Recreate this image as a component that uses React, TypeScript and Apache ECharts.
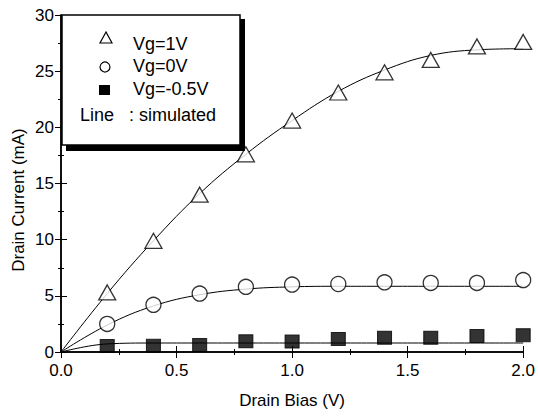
import React, { useEffect, useRef } from "react";
import * as echarts from "echarts";

const biasPoints = [0.2, 0.4, 0.6, 0.8, 1.0, 1.2, 1.4, 1.6, 1.8, 2.0];
const measVg1 = [5.3, 9.9, 14.0, 17.6, 20.6, 23.1, 24.9, 26.0, 27.2, 27.6];
const measVg0 = [2.5, 4.2, 5.2, 5.8, 6.0, 6.05, 6.2, 6.15, 6.15, 6.4];
const measVgm05 = [0.53, 0.55, 0.62, 0.95, 0.93, 1.16, 1.27, 1.27, 1.42, 1.5];

const simBias = [0, 0.2, 0.4, 0.6, 0.8, 1.0, 1.2, 1.4, 1.6, 1.8, 2.0];
const simVg1 = [0, 5.2, 9.9, 14.1, 17.6, 20.6, 23.2, 25.1, 26.4, 26.9, 27.0];
const simVg0 = [0, 2.4, 4.1, 5.1, 5.6, 5.8, 5.85, 5.85, 5.85, 5.85, 5.85];
const simVgm05 = [0, 0.72, 0.8, 0.8, 0.8, 0.8, 0.8, 0.8, 0.8, 0.8, 0.8];

const legendLabels = ["Vg=1V", "Vg=0V", "Vg=-0.5V"];
const legendNote = "Line   : simulated";
const xName = "Drain Bias (V)";
const yName = "Drain Current (mA)";

const FONT = "Liberation Sans, Arial, Helvetica, sans-serif";

function pairs(xs: number[], ys: number[]) {
  return xs.map((x, i) => [x, ys[i]]);
}

export default function App() {
  const ref = useRef<HTMLDivElement>(null);
  useEffect(() => {
    if (!ref.current) return;
    const chart = echarts.init(ref.current, undefined, { renderer: "svg" });
    const axisCommon = {
      type: "value" as const,
      axisLine: { show: true, lineStyle: { color: "#000", width: 1.5 } },
      splitLine: { show: false },
    };
    const tick = { show: true, inside: true, length: 6, lineStyle: { color: "#000" } };
    const minor = { show: true, splitNumber: 2, length: 3, lineStyle: { color: "#000" } };
    const lineStyle = { color: "#000", width: 1 };
    chart.setOption({
      animation: false,
      backgroundColor: "#fff",
      grid: { left: 61, right: 12, top: 15, bottom: 64 },
      xAxis: [
        {
          ...axisCommon,
          min: 0,
          max: 2,
          interval: 0.5,
          position: "bottom",
          axisTick: tick,
          minorTick: minor,
          axisLabel: {
            color: "#000",
            fontFamily: FONT,
            fontSize: 17,
            margin: 10,
            formatter: (v: number) => v.toFixed(1),
          },
          name: xName,
          nameLocation: "middle",
          nameGap: 40,
          nameTextStyle: { color: "#000", fontFamily: FONT, fontSize: 17 },
        },
        {
          ...axisCommon,
          min: 0,
          max: 2,
          interval: 0.5,
          position: "top",
          axisTick: tick,
          minorTick: minor,
          axisLabel: { show: false },
        },
      ],
      yAxis: [
        {
          ...axisCommon,
          min: 0,
          max: 30,
          interval: 5,
          position: "left",
          axisTick: tick,
          minorTick: minor,
          axisLabel: { color: "#000", fontFamily: FONT, fontSize: 17, margin: 7 },
        },
        {
          ...axisCommon,
          min: 0,
          max: 30,
          interval: 5,
          position: "right",
          axisTick: tick,
          minorTick: minor,
          axisLabel: { show: false },
        },
      ],
      series: [
        { type: "line", data: pairs(simBias, simVg1), smooth: 0.4, showSymbol: false, lineStyle, z: 1 },
        { type: "line", data: pairs(simBias, simVg0), smooth: 0.4, showSymbol: false, lineStyle, z: 1 },
        { type: "line", data: pairs(simBias, simVgm05), smooth: 0.4, showSymbol: false, lineStyle, z: 1 },
        {
          type: "scatter",
          name: legendLabels[0],
          data: pairs(biasPoints, measVg1),
          symbol: "triangle",
          symbolSize: [17, 15],
          itemStyle: { color: "#fff", borderColor: "#000", borderWidth: 1.3 },
          z: 3,
        },
        {
          type: "scatter",
          name: legendLabels[1],
          data: pairs(biasPoints, measVg0),
          symbol: "circle",
          symbolSize: 15,
          itemStyle: { color: "#fff", borderColor: "#000", borderWidth: 1.3 },
          z: 3,
        },
        {
          type: "scatter",
          name: legendLabels[2],
          data: pairs(biasPoints, measVgm05),
          symbol: "rect",
          symbolSize: [14, 13],
          itemStyle: { color: "#000", borderColor: "#000", borderWidth: 1 },
          z: 3,
        },
      ],
      graphic: [
        {
          type: "text",
          x: 18,
          y: 200,
          rotation: Math.PI / 2,
          style: { text: yName, font: `17px ${FONT}`, fill: "#000", align: "center", verticalAlign: "middle" },
          z: 5,
        },
        { type: "rect", shape: { x: 66, y: 19, width: 179, height: 132 }, style: { fill: "#000" }, z: 10 },
        { type: "rect", shape: { x: 62, y: 15, width: 178, height: 130 }, style: { fill: "#fff", stroke: "#000", lineWidth: 1.5 }, z: 11 },
        { type: "polygon", shape: { points: [[106, 32], [100, 43], [112, 43]] }, style: { fill: "#fff", stroke: "#000", lineWidth: 1.2 }, z: 12 },
        { type: "circle", shape: { cx: 105, cy: 67, r: 5 }, style: { fill: "#fff", stroke: "#000", lineWidth: 1.2 }, z: 12 },
        { type: "rect", shape: { x: 99, y: 85, width: 11, height: 10 }, style: { fill: "#000" }, z: 12 },
        { type: "text", x: 133, y: 44, style: { text: legendLabels[0], font: `18px ${FONT}`, fill: "#000", verticalAlign: "middle" }, z: 12 },
        { type: "text", x: 133, y: 66, style: { text: legendLabels[1], font: `18px ${FONT}`, fill: "#000", verticalAlign: "middle" }, z: 12 },
        { type: "text", x: 133, y: 89, style: { text: legendLabels[2], font: `18px ${FONT}`, fill: "#000", verticalAlign: "middle" }, z: 12 },
        { type: "text", x: 80, y: 115, style: { text: legendNote, font: `18px ${FONT}`, fill: "#000", verticalAlign: "middle" }, z: 12 },
      ],
    });
    return () => chart.dispose();
  }, []);
  return <div ref={ref} style={{ width: 538, height: 416, position: "absolute", left: 0, top: 0 }} />;
}
